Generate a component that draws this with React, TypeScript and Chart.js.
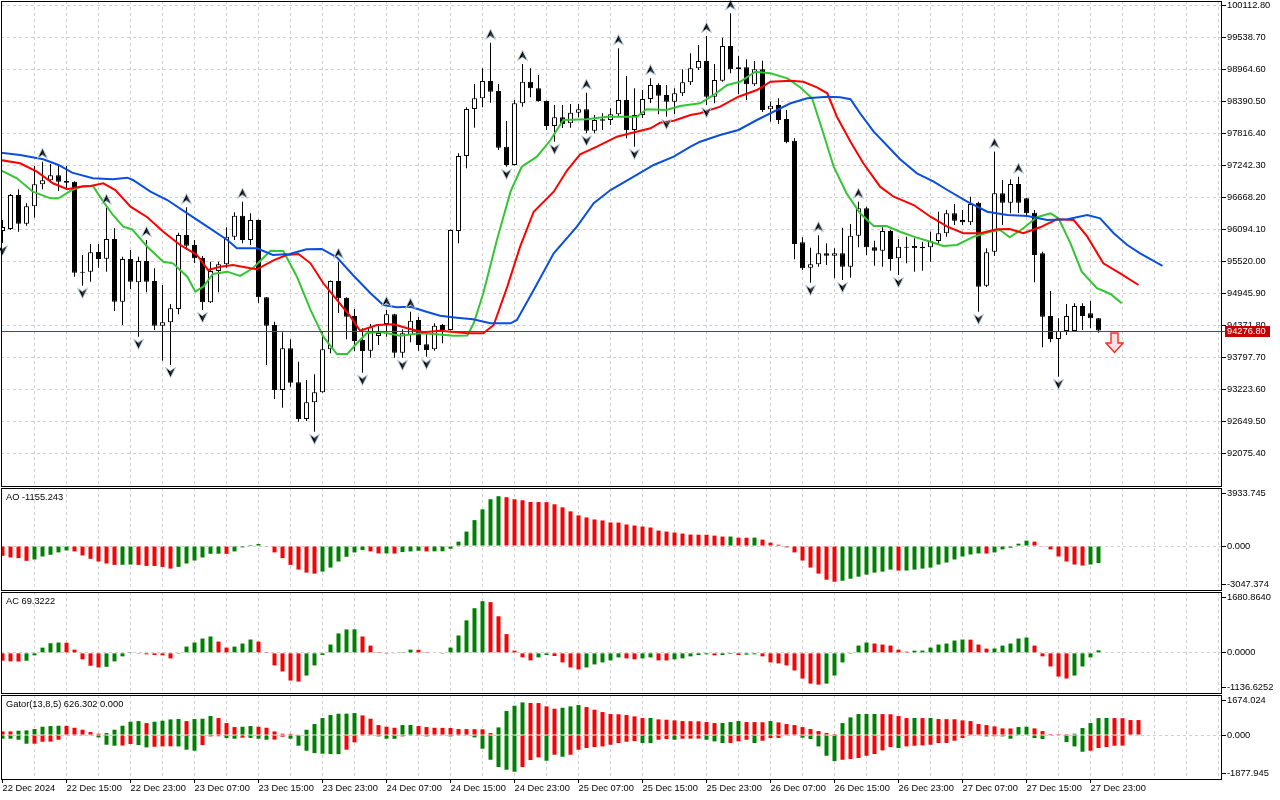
import React, { useEffect, useRef } from 'react';
import { Chart, registerables } from 'chart.js';

Chart.register(...registerables);

// ---------------- data ----------------
const timeLabels = [
  '22 Dec 2024', '22 Dec 15:00', '22 Dec 23:00', '23 Dec 07:00', '23 Dec 15:00', '23 Dec 23:00',
  '24 Dec 07:00', '24 Dec 15:00', '24 Dec 23:00', '25 Dec 07:00', '25 Dec 15:00', '25 Dec 23:00',
  '26 Dec 07:00', '26 Dec 15:00', '26 Dec 23:00', '27 Dec 07:00', '27 Dec 15:00', '27 Dec 23:00',
];

const priceTicks = [
  100112.8, 99538.7, 98964.6, 98390.5, 97816.4, 97242.3, 96668.2, 96094.1,
  95520.0, 94945.9, 94371.8, 93797.7, 93223.6, 92649.5, 92075.4,
];

const opens = [
  96064, 96100, 96710, 96195, 96507, 96902, 96973, 97063, 96961, 96948,
  95334, 95334, 95687, 95567, 95920, 94796, 95562, 95144, 95526, 95167,
  94365, 94426, 94665, 95992, 95813, 95585, 94785, 95346, 95467, 95962,
  96338, 95902, 96261, 94874, 94378, 93211, 93960, 93349, 92691, 92991,
  93170, 93942, 95167, 94867, 94539, 94108, 93916, 94180, 94395, 94570,
  93881, 94198, 94467, 94031, 93942, 94378, 94288, 96064, 97409, 98253,
  98445, 98755, 98575, 97576, 97248, 98355, 98742, 98624, 98396, 97948,
  98104, 97996, 98186, 98247, 97863, 98043, 98055, 98158, 98414, 97876,
  98145, 98432, 98683, 98504, 98384, 98534, 98732, 98983, 99114, 98473,
  98760, 99383, 99001, 99001, 98696, 98965, 98247, 98324, 98073, 97684,
  95861, 95405, 95467, 95664, 95621, 95664, 95423, 95980, 96471, 95771,
  95710, 96064, 95574, 95782, 95795, 95782, 95771, 95884, 96023, 96381,
  96261, 96220, 96572, 95083, 95693, 96740, 96572, 96907, 96650, 96392,
  95664, 94539, 94126, 94270, 94270, 94718, 94587, 94498,
];

const highs = [
  96261, 96728, 96812, 96561, 97230, 97307, 97266, 97230, 97230, 96955,
  95633, 95831, 95831, 96482, 96112, 95603, 95723, 95603, 95902, 95395,
  95095, 94754, 96033, 96489, 95902, 95615, 95513, 95513, 96130, 96399,
  96590, 96381, 96270, 94880, 94437, 94246, 94121, 93719, 93391, 93493,
  94257, 95175, 95513, 94875, 94665, 94318, 94395, 94395, 94647, 94578,
  94300, 94616, 94526, 94257, 94408, 94395, 96090, 97458, 98283, 98701,
  98983, 99442, 98701, 98037, 98414, 99060, 98983, 98863, 98405, 98324,
  98324, 98342, 98342, 98545, 98145, 98175, 98265, 99342, 98845, 98624,
  98593, 98803, 98714, 98683, 98624, 98965, 99252, 99401, 99562, 99060,
  99532, 99969, 99203, 99144, 99114, 99119, 98384, 98445, 98235, 97727,
  95951, 95764, 95987, 95843, 95754, 96123, 96189, 96590, 96500, 95890,
  96130, 96082, 95920, 95962, 95933, 95872, 96051, 96410, 96441, 96548,
  96441, 96679, 96590, 95754, 97487, 96979, 96991, 97038, 96661, 96441,
  95693, 94987, 94498, 94754, 94767, 94767, 94813, 94505,
];

const lows = [
  95849, 96082, 96051, 96159, 96302, 96812, 96925, 96781, 96799, 95244,
  95083, 95154, 95405, 95334, 94629, 94378, 95023, 94168, 94964, 94288,
  93737, 93660, 94570, 95723, 95490, 94647, 94772, 94964, 95400, 95902,
  95843, 95813, 94778, 93660, 93050, 92894, 93271, 92643, 92655, 92463,
  93160, 93870, 94593, 94121, 93911, 93522, 93791, 94019, 94168, 93791,
  93791, 94067, 93916, 93809, 93916, 94049, 94280, 95843, 97189, 97917,
  98283, 98366, 97517, 97217, 97240, 98294, 98462, 98384, 97876, 97666,
  97912, 97917, 98104, 97817, 97817, 97876, 97966, 98109, 97727, 97576,
  98091, 98360, 98158, 98114, 98158, 98486, 98683, 98952, 98324, 98355,
  98742, 98893, 98516, 98414, 98665, 98199, 98025, 97983, 97637, 95556,
  95364, 95136, 95423, 95454, 95215, 95185, 95226, 95771, 95633, 95441,
  95423, 95352, 95275, 95484, 95334, 95352, 95513, 95813, 95962, 96172,
  96172, 96172, 94616, 95059, 95615, 96172, 96381, 96387, 96351, 95144,
  93977, 94067, 93450, 94198, 94252, 94288, 94318, 94239,
];

const closes = [
  96136, 96710, 96195, 96507, 96902, 96973, 97063, 96948, 96930, 95316,
  95316, 95682, 95562, 95920, 94796, 95562, 95154, 95526, 95154, 94365,
  94426, 94677, 95992, 95800, 95574, 94785, 95346, 95467, 95962, 96338,
  95902, 96261, 94874, 94365, 93211, 93960, 93342, 92691, 92991, 93170,
  93942, 95167, 94856, 94526, 94090, 93911, 94336, 94234, 94570, 93881,
  94229, 94455, 94019, 93929, 94365, 94288, 96082, 97409, 98253, 98445,
  98755, 98563, 97558, 97248, 98355, 98742, 98624, 98396, 97948, 98104,
  97983, 98186, 98247, 97863, 98055, 98068, 98158, 98414, 97876, 98145,
  98432, 98683, 98491, 98384, 98534, 98732, 98983, 99114, 98473, 98773,
  99383, 98965, 98970, 98696, 98965, 98235, 98312, 98055, 97655, 95831,
  95395, 95467, 95664, 95621, 95664, 95423, 95980, 96471, 95771, 95710,
  96064, 95562, 95782, 95764, 95754, 95754, 95884, 96023, 96381, 96249,
  96220, 96548, 95065, 95682, 96740, 96572, 96907, 96572, 96381, 95633,
  94526, 94126, 94270, 94539, 94718, 94539, 94498, 94276.8,
];

const lastPrice = 94276.8;

// Alligator lines: [bar index, price]
const jawLine = [
  [-0.3, 97469], [2.2, 97427], [5.1, 97350], [7.0, 97248], [8.7, 97110], [11.3, 97009], [13.8, 96991],
  [15.6, 97020], [16.3, 96979], [18.5, 96769], [20.6, 96620], [23.1, 96381], [25.6, 96141], [28.1, 95902],
  [29.3, 95754], [31.8, 95754], [33.8, 95633], [35.9, 95651], [38.0, 95736], [39.9, 95741], [41.8, 95592],
  [43.8, 95275], [46.0, 94946], [47.6, 94736], [49.3, 94695], [51.0, 94706], [53.0, 94616], [54.7, 94544],
  [56.8, 94508], [58.8, 94480], [61.0, 94408], [63.5, 94408], [64.3, 94467], [66.4, 95005], [68.9, 95664],
  [71.8, 96141], [73.9, 96561], [76.0, 96799], [78.9, 97038], [81.4, 97248], [83.9, 97397], [86.0, 97576],
  [87.2, 97666], [89.7, 97786], [92.0, 97876], [94.3, 98055], [96.4, 98204], [98.5, 98355], [100.6, 98445],
  [103.1, 98473], [104.7, 98462], [106.0, 98427], [107.2, 98175], [108.9, 97845], [110.5, 97607],
  [112.2, 97350], [114.3, 97099], [116.4, 96948], [118.1, 96799], [120.6, 96590], [123.1, 96410],
  [125.6, 96351], [128.1, 96333], [130.6, 96261], [133.1, 96274], [135.6, 96351], [137.2, 96292],
  [138.9, 96023], [140.6, 95813], [142.2, 95664], [145.0, 95436],
];

const teethLine = [
  [-0.3, 97338], [2.2, 97278], [4.3, 97128], [6.3, 96920], [8.1, 96812], [9.7, 96859], [11.0, 96871],
  [12.6, 96920], [14.1, 96799], [16.0, 96500], [18.1, 96310], [20.1, 96051], [22.2, 95813], [24.3, 95633],
  [25.7, 95364], [27.2, 95423], [28.8, 95454], [31.0, 95395], [31.8, 95377], [33.8, 95531], [35.5, 95633],
  [37.0, 95651], [38.5, 95484], [40.1, 95126], [41.8, 94826], [43.5, 94526], [44.7, 94275], [46.8, 94378],
  [48.9, 94390], [50.6, 94318], [52.6, 94246], [54.7, 94275], [58.1, 94229], [60.1, 94229], [61.4, 94378],
  [63.1, 95065], [64.7, 95782], [66.4, 96410], [68.9, 96769], [70.6, 97158], [72.2, 97440], [74.3, 97576],
  [76.8, 97756], [78.5, 97817], [81.0, 97906], [82.2, 98007], [83.9, 98043], [86.0, 98145], [87.2, 98175],
  [89.7, 98294], [92.0, 98473], [94.3, 98593], [96.0, 98742], [98.5, 98760], [100.1, 98742], [101.8, 98642],
  [103.1, 98534], [104.3, 98114], [106.0, 97666], [107.6, 97278], [109.7, 96859], [111.4, 96679],
  [113.9, 96530], [116.0, 96320], [118.1, 96141], [120.1, 96023], [122.2, 96023], [124.3, 96094],
  [125.9, 96100], [127.6, 96023], [129.7, 96130], [131.8, 96274], [133.9, 96261], [135.6, 95962],
  [137.6, 95484], [139.7, 95305], [142.0, 95095],
];

const lipsLine = [
  [-0.3, 97158], [1.8, 97009], [3.8, 96769], [6.0, 96650], [7.0, 96650], [8.7, 96799], [10.1, 96871],
  [11.3, 96871], [12.6, 96590], [13.8, 96351], [15.1, 96141], [16.2, 96094], [18.1, 95782], [20.1, 95513],
  [21.3, 95484], [23.1, 95244], [24.1, 94975], [25.1, 95065], [26.3, 95292], [28.1, 95334], [29.7, 95257],
  [31.3, 95395], [33.5, 95710], [35.1, 95705], [36.8, 95244], [38.5, 94647], [40.1, 94168], [41.8, 93857],
  [43.1, 93857], [44.3, 94049], [45.5, 94229], [47.2, 94257], [49.7, 94186], [52.2, 94229], [53.9, 94216],
  [56.4, 94186], [58.1, 94190], [58.9, 94408], [60.1, 94946], [61.8, 95902], [63.5, 96769], [64.9, 97217],
  [66.8, 97397], [68.5, 97696], [70.1, 98055], [73.0, 98068], [75.6, 98114], [79.3, 98114], [80.5, 98247],
  [83.0, 98235], [84.7, 98306], [87.2, 98355], [88.9, 98504], [90.6, 98683], [92.2, 98742], [94.1, 98922],
  [96.0, 98893], [98.1, 98803], [99.7, 98642], [101.2, 98445], [102.6, 97817], [103.9, 97217],
  [105.5, 96740], [107.2, 96381], [108.9, 96154], [110.5, 96154], [112.2, 96051], [113.9, 95962],
  [116.0, 95872], [117.6, 95795], [119.3, 95813], [121.4, 95962], [123.5, 96051], [124.7, 96082],
  [125.9, 95951], [127.6, 96112], [129.3, 96310], [131.0, 96381], [132.0, 96292], [133.5, 95843],
  [134.9, 95334], [136.8, 95036], [138.5, 94934], [139.9, 94767],
];

const upFractals = [5, 13, 18, 23, 30, 42, 48, 51, 61, 65, 73, 77, 81, 88, 91, 102, 107, 124, 127];
const downFractals = [0, 10, 17, 21, 25, 39, 45, 50, 53, 63, 69, 73, 79, 83, 88, 101, 105, 112, 122, 132];

const sellSignal = { index: 139, price: 94055 };

const aoValues = [
  -662, -776, -821, -1004, -912, -707, -593, -433, -297, -365,
  -639, -867, -1049, -1186, -1278, -1270, -1255, -1280, -1346, -1350,
  -1414, -1528, -1414, -1186, -981, -776, -525, -520, -530, -365,
  -91, 68, 137, -46, -433, -821, -1278, -1597, -1802, -1871,
  -1734, -1460, -1049, -730, -433, -274, -365, -502, -500, -510,
  -411, -365, -320, -365, -360, -355, -183, 297, 981, 1756,
  2487, 3171, 3376, 3308, 3171, 3102, 2988, 2980, 2975, 2829,
  2623, 2350, 2076, 1939, 1802, 1734, 1597, 1590, 1460, 1392,
  1323, 1255, 1049, 981, 912, 844, 776, 770, 765, 707,
  639, 645, 570, 565, 572, 433, 228, 91, -91, -433,
  -981, -1460, -1871, -2281, -2418, -2350, -2213, -2076, -1939, -1802,
  -1734, -1597, -1665, -1660, -1597, -1529, -1460, -1255, -1118, -912,
  -707, -570, -502, -510, -433, -228, -114, 160, 365, 297,
  -23, -228, -707, -1049, -1255, -1323, -1250, -1155.243,
];

const acValues = [
  -218, -236, -240, -218, -69, 145, 266, 285, 280, 89,
  -180, -357, -404, -385, -236, -97, 5, -22, -41, -60,
  -69, -153, -4, 173, 285, 396, 452, 312, 145, 173,
  257, 368, 312, 24, -348, -515, -766, -794, -627, -348,
  -60, 229, 536, 647, 650, 452, 201, 24, -22, -18,
  24, 89, 85, 5, -13, -5, 145, 480, 898, 1233,
  1428, 1401, 1010, 517, 61, -125, -208, -125, -60, -87,
  -264, -404, -459, -404, -320, -264, -208, -125, -153, -180,
  -153, -125, -208, -210, -180, -153, -97, -60, -41, -69,
  -60, -32, -60, -50, -41, -97, -264, -292, -348, -487,
  -710, -850, -878, -850, -627, -264, -4, 201, 285, 257,
  229, 201, 89, 33, 61, 63, 145, 229, 257, 340,
  368, 365, 229, 117, 120, 201, 257, 396, 424, 201,
  -97, -376, -655, -710, -627, -376, -125, 69.3222,
];

const gatorUpper = [
  153, 153, 181, 195, 251, 348, 376, 390, 385, 306,
  223, 125, 56, 84, 223, 390, 557, 585, 501, 557,
  599, 655, 669, 585, 669, 683, 794, 710, 501, 334,
  348, 376, 348, 306, 153, 56, 50, 28, 223, 460,
  710, 836, 892, 895, 919, 822, 683, 418, 348, 306,
  418, 420, 376, 334, 306, 300, 296, 251, 248, 245,
  240, 84, 320, 1003, 1226, 1365, 1340, 1337, 1198, 1100,
  1142, 1198, 1254, 1170, 1059, 961, 878, 870, 836, 780,
  710, 715, 655, 641, 613, 585, 580, 575, 543, 501,
  505, 543, 585, 543, 540, 535, 585, 529, 460, 418,
  334, 251, 167, 84, 42, 501, 738, 878, 880, 882,
  875, 870, 794, 710, 715, 710, 715, 669, 665, 660,
  613, 585, 460, 418, 362, 279, 275, 334, 348, 279,
  167, 42, 40, 38, 56, 293, 501, 710, 715, 710,
  705, 627, 626.302,
];

const gatorLower = [
  -153, -153, -195, -362, -360, -279, -275, -195, -28, -14,
  -16, -28, -97, -404, -446, -440, -376, -418, -515, -488,
  -474, -470, -475, -613, -655, -418, -56, -50, -125, -153,
  -111, -120, -153, -195, -190, -70, -153, -446, -655, -752,
  -780, -794, -798, -613, -306, -28, -14, -56, -153, -155,
  -56, -28, -30, -56, -28, -25, -56, -28, -25, -97,
  -571, -1031, -1337, -1449, -1532, -1337, -1045, -933, -1073, -822,
  -905, -822, -613, -543, -501, -474, -404, -334, -279, -251,
  -334, -336, -195, -167, -195, -153, -150, -148, -195, -265,
  -334, -330, -265, -195, -334, -237, -125, -120, -28, -25,
  -111, -167, -474, -864, -1087, -1031, -1003, -961, -864, -794,
  -641, -501, -543, -474, -446, -432, -404, -334, -330, -237,
  -125, -28, -14, -56, -50, -56, -153, -28, -25, -125,
  -167, -28, -25, -293, -474, -697, -655, -543, -501, -446,
  -440,
];

const aoAxisLabels = ['-3047.374', '0.000', '3933.745'];
const acAxisLabels = ['-1136.6252', '0.0000', '1680.8640'];
const gatorAxisLabels = ['-1877.945', '0.000', '1674.024'];

const aoTitle = 'AO -1155.243';
const acTitle = 'AC 69.3222';
const gatorTitle = 'Gator(13,8,5) 626.302 0.000';

// ---------------- styling ----------------
const GREEN = '#008000';
const RED = '#ff0000';
const GRID = '#d0d0d0';
const FONT = { family: '"Liberation Sans", Arial, sans-serif', size: 9.3 };
const X_MIN = -0.1875;
const X_MAX = 152.4375;
const P_MAX = 100190;
const P_MIN = 91471;
const AXIS_W = 58;

function trendColors(vals: number[], firstUp: boolean, useAbs: boolean) {
  const out: string[] = [];
  let up = firstUp;
  vals.forEach((v, i) => {
    if (i > 0) {
      const a = useAbs ? Math.abs(v) : v;
      const b = useAbs ? Math.abs(vals[i - 1]) : vals[i - 1];
      if (a > b) up = true;
      else if (a < b) up = false;
    }
    out.push(up ? GREEN : RED);
  });
  return out;
}

function xAxis(withLabels: boolean): any {
  return {
    type: 'linear',
    min: X_MIN,
    max: X_MAX,
    offset: false,
    afterBuildTicks: (s: any) => {
      const t: any[] = [];
      for (let v = 0; v <= X_MAX; v += 4) t.push({ value: v });
      s.ticks = t;
    },
    afterFit: (s: any) => {
      s.height = withLabels ? 20 : 0;
      s.paddingLeft = 0;
      s.paddingRight = 0;
    },
    grid: {
      offset: false,
      color: (c: any) => (c.tick && c.tick.value === 0 ? 'rgba(0,0,0,0)' : GRID),
      lineWidth: 1,
      drawTicks: withLabels,
      tickLength: 3,
      tickBorderDash: [],
      tickColor: (c: any) =>
        c.tick && c.tick.value % 8 === 0 && c.tick.value / 8 < timeLabels.length ? '#000' : 'rgba(0,0,0,0)',
    },
    border: { display: false, dash: [3, 3] },
    ticks: {
      display: withLabels,
      autoSkip: false,
      maxRotation: 0,
      minRotation: 0,
      align: 'start',
      padding: 0,
      font: FONT,
      color: '#000',
      callback: (v: any) => {
        const n = Number(v);
        if (n % 8 === 0 && n / 8 < timeLabels.length) return timeLabels[n / 8];
        return '';
      },
    },
  };
}

function subYAxis(labels: string[], panelH: number): any {
  const min = parseFloat(labels[0]);
  const max = parseFloat(labels[2]);
  return {
    type: 'linear',
    position: 'right',
    min,
    max,
    afterBuildTicks: (s: any) => {
      const k = (max - min) / panelH;
      s.ticks = [{ value: min + 6.5 * k }, { value: 0 }, { value: max - 5.5 * k }];
    },
    afterFit: (s: any) => {
      s.width = AXIS_W;
      s.paddingTop = 0;
      s.paddingBottom = 0;
    },
    grid: {
      color: (c: any) => (c.tick && c.tick.value === 0 ? GRID : 'rgba(0,0,0,0)'),
      drawTicks: true,
      tickLength: 4,
      tickColor: '#000',
      tickBorderDash: [],
    },
    border: { display: false, dash: [3, 3] },
    ticks: {
      font: FONT,
      color: '#000',
      padding: 1,
      autoSkip: false,
      callback: (_v: any, i: number) => labels[i],
    },
  };
}

const framePlugin = {
  id: 'frame',
  afterDraw(chart: any) {
    const { ctx, chartArea: a } = chart;
    ctx.save();
    ctx.setLineDash([]);
    ctx.strokeStyle = '#000';
    ctx.lineWidth = 1;
    ctx.strokeRect(a.left + 0.5, a.top + 0.5, a.right - a.left - 1, a.bottom - a.top - 1);
    ctx.restore();
  },
};

const headerPlugin = {
  id: 'header',
  afterDraw(chart: any, _args: any, opts: any) {
    if (!opts || !opts.text) return;
    const { ctx, chartArea: a } = chart;
    ctx.save();
    ctx.font = `${FONT.size}px ${FONT.family}`;
    ctx.fillStyle = '#000';
    ctx.textAlign = 'left';
    ctx.textBaseline = 'middle';
    ctx.fillText(opts.text, a.left + 5, a.top + 9);
    ctx.restore();
  },
};

const priceLinePlugin = {
  id: 'priceLine',
  afterDatasetsDraw(chart: any, _args: any, opts: any) {
    const { ctx, chartArea: a } = chart;
    const y = Math.round(chart.scales.y.getPixelForValue(opts.value));
    ctx.save();
    ctx.setLineDash([]);
    ctx.globalAlpha = 1;
    ctx.fillStyle = '#ff0000';
    ctx.fillRect(a.left, y, a.right + 3 - a.left, 1);
    ctx.restore();
  },
  afterDraw(chart: any, _args: any, opts: any) {
    const { ctx, chartArea: a } = chart;
    const y = Math.round(chart.scales.y.getPixelForValue(opts.value));
    ctx.save();
    ctx.fillStyle = '#c80000';
    ctx.fillRect(a.right + 3, y - 5, 45, 11);
    ctx.fillStyle = '#ffffff';
    ctx.font = `${FONT.size}px ${FONT.family}`;
    ctx.textAlign = 'left';
    ctx.textBaseline = 'middle';
    ctx.fillText(opts.value.toFixed(2), a.right + 5, y + 0.5);
    ctx.restore();
  },
};

function drawArrowHead(g: CanvasRenderingContext2D, tipY: number, baseY: number, notchY: number) {
  g.beginPath();
  g.moveTo(5.5, tipY);
  g.lineTo(10.5, baseY);
  g.lineTo(5.5, notchY);
  g.lineTo(0.5, baseY);
  g.closePath();
  g.fillStyle = '#000';
  g.fill();
  g.lineWidth = 1;
  g.strokeStyle = '#b4c8dc';
  g.stroke();
  g.beginPath();
  g.moveTo(5.5, tipY + (baseY > tipY ? 2 : -2));
  g.lineTo(9.2, baseY + (baseY > tipY ? -1 : 1));
  g.lineTo(5.5, notchY);
  g.closePath();
  g.fillStyle = '#3c3c3c';
  g.fill();
}

function makeUpIcon() {
  const c = document.createElement('canvas');
  c.width = 11;
  c.height = 28;
  const g = c.getContext('2d')!;
  drawArrowHead(g, 0.5, 10.5, 7);
  return c;
}

function makeDownIcon() {
  const c = document.createElement('canvas');
  c.width = 11;
  c.height = 26;
  const g = c.getContext('2d')!;
  drawArrowHead(g, 25.5, 15.5, 19);
  return c;
}

function makeSellIcon() {
  const c = document.createElement('canvas');
  c.width = 19;
  c.height = 22;
  const g = c.getContext('2d')!;
  g.beginPath();
  g.moveTo(6, 1);
  g.lineTo(13, 1);
  g.lineTo(13, 11);
  g.lineTo(18, 11);
  g.lineTo(9.5, 20.5);
  g.lineTo(1, 11);
  g.lineTo(6, 11);
  g.closePath();
  g.fillStyle = '#ffe0e6';
  g.fill();
  g.strokeStyle = '#ff2a1a';
  g.lineWidth = 1.4;
  g.stroke();
  return c;
}

const baseOptions = (padTop: number, scales: any, plugins: any): any => ({
  responsive: false,
  animation: false,
  events: [],
  layout: { padding: { left: 1, right: 0, top: padTop, bottom: 0 }, autoPadding: false },
  plugins: { legend: { display: false }, tooltip: { enabled: false }, ...plugins },
  scales,
});

function mainConfig(): any {
  const idx = opens.map((_, i) => i);
  const wick = idx.map((i) => ({ x: i, y: [lows[i], highs[i]] }));
  const body = idx.map((i) => ({ x: i, y: [Math.min(opens[i], closes[i]), Math.max(opens[i], closes[i])] }));
  const bodyColors = idx.map((i) => (closes[i] >= opens[i] ? '#ffffff' : '#000000'));
  const lineDs = (pts: number[][], color: string) => ({
    type: 'line',
    data: pts.map(([x, y]) => ({ x, y })),
    borderColor: color,
    borderWidth: 2,
    pointRadius: 0,
    tension: 0,
    fill: false,
    order: 2,
  });
  return {
    type: 'bar',
    data: {
      datasets: [
        {
          type: 'bar',
          data: wick,
          backgroundColor: '#000',
          borderWidth: 0,
          barThickness: 1,
          grouped: false,
          inflateAmount: 0,
          order: 4,
        },
        {
          type: 'bar',
          data: body,
          backgroundColor: bodyColors,
          borderColor: '#000',
          borderWidth: 1,
          borderSkipped: false,
          barThickness: 5,
          minBarLength: 1,
          grouped: false,
          inflateAmount: 0,
          order: 3,
        },
        lineDs(jawLine, '#0a4fdc'),
        lineDs(teethLine, '#ff0000'),
        lineDs(lipsLine, '#33c633'),
        {
          type: 'scatter',
          data: upFractals.map((i) => ({ x: i, y: highs[i] })),
          pointStyle: makeUpIcon(),
          pointRadius: 5,
          clip: false,
          order: 1,
        },
        {
          type: 'scatter',
          data: downFractals.map((i) => ({ x: i, y: lows[i] })),
          pointStyle: makeDownIcon(),
          pointRadius: 5,
          clip: false,
          order: 1,
        },
        {
          type: 'scatter',
          data: [{ x: sellSignal.index, y: sellSignal.price }],
          pointStyle: makeSellIcon(),
          pointRadius: 5,
          order: 0,
        },
      ],
    },
    options: baseOptions(
      1,
      {
        x: xAxis(false),
        y: {
          type: 'linear',
          position: 'right',
          min: P_MIN,
          max: P_MAX,
          afterBuildTicks: (s: any) => {
            s.ticks = priceTicks.map((v) => ({ value: v }));
          },
          afterFit: (s: any) => {
            s.width = AXIS_W;
            s.paddingTop = 0;
            s.paddingBottom = 0;
          },
          grid: { color: GRID, drawTicks: true, tickLength: 4, tickColor: '#000', tickBorderDash: [] },
          border: { display: false, dash: [3, 3] },
          ticks: {
            font: FONT,
            color: '#000',
            padding: 1,
            autoSkip: false,
            callback: (v: any) => Number(v).toFixed(2),
          },
        },
      },
      { priceLine: { value: lastPrice } }
    ),
    plugins: [priceLinePlugin, framePlugin],
  };
}

function histConfig(values: number[], labels: string[], panelH: number, title: string): any {
  return {
    type: 'bar',
    data: {
      datasets: [
        {
          type: 'bar',
          data: values.map((v, i) => ({ x: i, y: v })),
          backgroundColor: trendColors(values, false, false),
          borderWidth: 0,
          barThickness: 4,
          grouped: false,
          inflateAmount: 0,
        },
      ],
    },
    options: baseOptions(0, { x: xAxis(false), y: subYAxis(labels, panelH) }, { header: { text: title } }),
    plugins: [framePlugin, headerPlugin],
  };
}

function gatorConfig(): any {
  return {
    type: 'bar',
    data: {
      datasets: [
        {
          type: 'bar',
          data: gatorUpper.map((v, i) => ({ x: i, y: v })),
          backgroundColor: trendColors(gatorUpper, false, false),
          borderWidth: 0,
          barThickness: 4,
          grouped: false,
          inflateAmount: 0,
        },
        {
          type: 'bar',
          data: gatorLower.map((v, i) => ({ x: i, y: v })),
          backgroundColor: trendColors(gatorLower, true, true),
          borderWidth: 0,
          barThickness: 4,
          grouped: false,
          inflateAmount: 0,
        },
      ],
    },
    options: baseOptions(0, { x: xAxis(true), y: subYAxis(gatorAxisLabels, 85) }, { header: { text: gatorTitle } }),
    plugins: [framePlugin, headerPlugin],
  };
}

export default function App() {
  const mainRef = useRef<HTMLCanvasElement>(null);
  const aoRef = useRef<HTMLCanvasElement>(null);
  const acRef = useRef<HTMLCanvasElement>(null);
  const gatorRef = useRef<HTMLCanvasElement>(null);

  useEffect(() => {
    const charts: Chart[] = [];
    if (mainRef.current) charts.push(new Chart(mainRef.current, mainConfig()));
    if (aoRef.current) charts.push(new Chart(aoRef.current, histConfig(aoValues, aoAxisLabels, 103, aoTitle)));
    if (acRef.current) charts.push(new Chart(acRef.current, histConfig(acValues, acAxisLabels, 102, acTitle)));
    if (gatorRef.current) charts.push(new Chart(gatorRef.current, gatorConfig()));
    return () => charts.forEach((c) => c.destroy());
  }, []);

  const cv = (top: number, h: number): React.CSSProperties => ({
    position: 'absolute',
    left: 0,
    top,
    width: 1280,
    height: h,
    display: 'block',
  });

  return (
    <div style={{ position: 'fixed', left: 0, top: 0, width: 1280, height: 800, background: '#ffffff', overflow: 'hidden' }}>
      <canvas ref={mainRef} width={1280} height={487} style={cv(0, 487)} />
      <canvas ref={aoRef} width={1280} height={103} style={cv(488, 103)} />
      <canvas ref={acRef} width={1280} height={102} style={cv(592, 102)} />
      <canvas ref={gatorRef} width={1280} height={105} style={cv(695, 105)} />
    </div>
  );
}
